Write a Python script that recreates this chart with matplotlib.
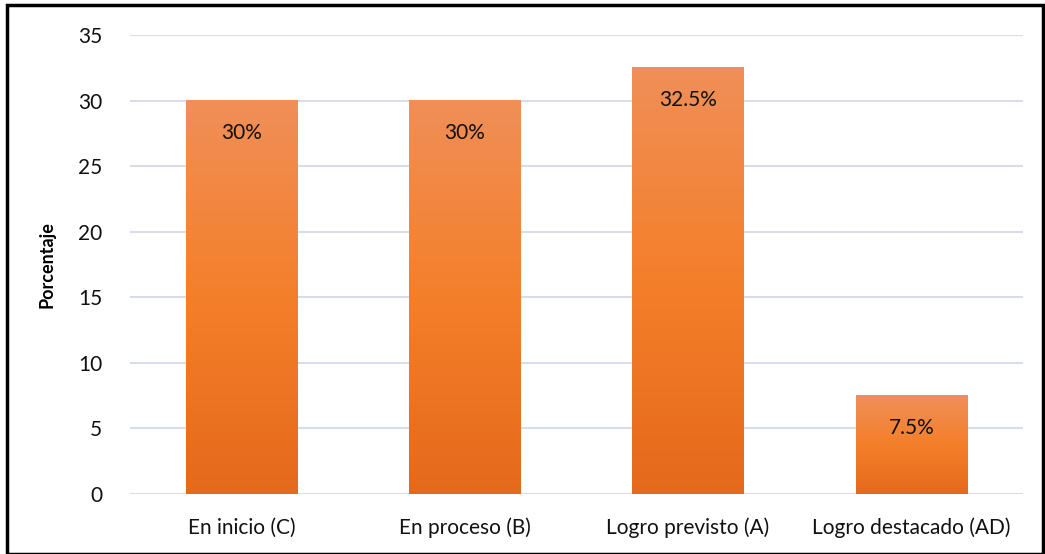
import numpy as np
import matplotlib.pyplot as plt
from matplotlib.colors import LinearSegmentedColormap
from matplotlib.patches import Rectangle

categories = ['En inicio (C)', 'En proceso (B)', 'Logro previsto (A)', 'Logro destacado (AD)']
values = [30, 30, 32.5, 7.5]
labels = ['30%', '30%', '32.5%', '7.5%']

plt.rcParams['font.family'] = ['Lato', 'DejaVu Sans']

fig = plt.figure(figsize=(10.45, 5.54), dpi=100)
ax = fig.add_axes([130 / 1045, 60 / 554, 893 / 1045, 459 / 554])

# orange gradient, light at top, darker at bottom
cmap = LinearSegmentedColormap.from_list('bar', ['#E5691B', '#F47F2A', '#F08F58'])
grad = np.linspace(0, 1, 256).reshape(-1, 1)

width = 0.5
x = np.arange(len(categories))
for xi, v, lab in zip(x, values, labels):
    ax.imshow(grad, cmap=cmap, origin='lower', aspect='auto',
              extent=(xi - width / 2, xi + width / 2, 0, v), zorder=2)
    ax.annotate(lab, (xi, v), xytext=(0, -23), textcoords='offset points',
                ha='center', va='center', fontsize=15, color='#111111', zorder=3)

ax.set_xlim(-0.5, len(categories) - 0.5)
ax.set_ylim(0, 35)
ax.set_yticks(range(0, 36, 5))
ax.set_xticks(x)
ax.set_xticklabels(categories, fontsize=15.5)
ax.yaxis.grid(True, color='#D9DDE8', linewidth=1.5, zorder=0)
ax.set_axisbelow(True)
for s in ax.spines.values():
    s.set_visible(False)
ax.tick_params(length=0, labelsize=15, colors='#111111')
ax.tick_params(axis='x', pad=17)
ax.tick_params(axis='y', pad=20)
ax.set_ylabel('Porcentaje', fontsize=13, fontweight='bold', labelpad=16)

# black frame around the figure
fig.patches.append(Rectangle((7 / 1045, 0.0), 1036 / 1045, 549 / 554,
                             transform=fig.transFigure, fill=False,
                             edgecolor='black', linewidth=2.5))

fig.savefig('out.png', dpi=100)
